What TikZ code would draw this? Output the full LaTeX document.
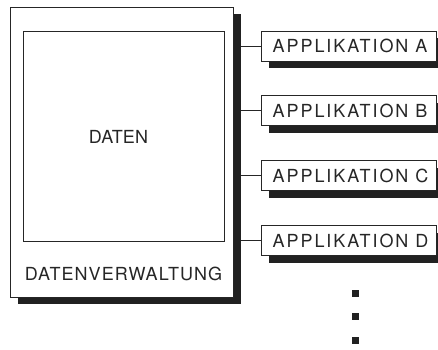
\documentclass[tikz,border=0pt]{standalone}
\usepackage{fontspec}
\setmainfont{TeX Gyre Heros}
\newfontfamily\appfont{TeX Gyre Heros}[LetterSpace=10.8]
\newfontfamily\dvfont{TeX Gyre Heros}[LetterSpace=6]
\newfontfamily\dfont{TeX Gyre Heros}[LetterSpace=1]
\begin{document}
\begin{tikzpicture}[x=1pt,y=-1pt,
  box/.style={draw=black!85,line width=1pt,fill=white,inner sep=0pt,rectangle},
  shade/.style={fill=black!87,draw=none},
  lab/.style={text=black!85,inner sep=0pt},
  conn/.style={draw=black!85,line width=0.9pt},
  dot/.style={fill=black!87,draw=none,minimum size=7pt,inner sep=0pt,rectangle}]
\useasboundingbox (0,0) rectangle (438,349);
% outer
\fill[shade] (18,14) rectangle (241,304);
\node[box,minimum width=223pt,minimum height=290pt] (outer) at (121.5,152) {};
\node[box,minimum width=201pt,minimum height=210pt] (inner) at (123.5,136) {};
\node[lab,font=\dfont\fontsize{18}{20}\selectfont] (daten) at (118.5,137) {DATEN};
\node[lab,font=\dvfont\fontsize{18}{20}\selectfont] (dv) at (123.5,274) {DATENVERWALTUNG};
% applications
\foreach \n/\y/\t in {a/46/A,b/110.5/B,c/175.5/C,d/240.5/D}{
  \fill[shade] (269,\y-8) rectangle (446,\y+22);
  \node[box,minimum width=175pt,minimum height=30pt] (app\n) at (348.5,\y) {};
  \node[lab,anchor=west,font=\appfont\fontsize{18}{20}\selectfont] (t\n) at (272.5,\y) {APPLIKATION \t};
  \coordinate (s\n) at (241,\y);
  \draw[conn] (s\n) -- (app\n.west);
}
\node[dot] (d1) at (355.5,293) {};
\node[dot] (d2) at (355.5,316) {};
\node[dot] (d3) at (355.5,340.5) {};
\end{tikzpicture}
\end{document}
